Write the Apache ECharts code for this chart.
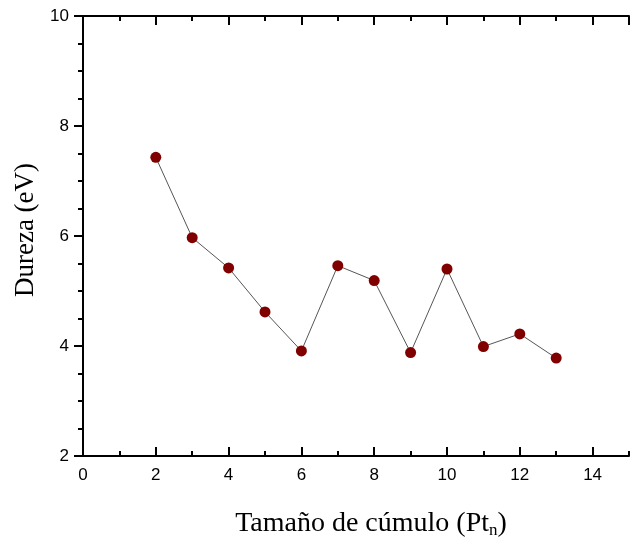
<!DOCTYPE html>
<html>
<head>
<meta charset="utf-8">
<script src="https://cdn.jsdelivr.net/npm/echarts@6/dist/echarts.min.js"></script>
<style>html,body{margin:0;padding:0;background:#fff;}#c{width:642px;height:544px;}</style>
</head>
<body>
<div id="c"></div>
<script>
const clusterSize = [2, 3, 4, 5, 6, 7, 8, 9, 10, 11, 12, 13];
const dureza = [7.43, 5.97, 5.42, 4.62, 3.91, 5.46, 5.19, 3.88, 5.40, 3.99, 4.22, 3.78];
const xTitle = '{a|Tamaño de cúmulo (Pt}{s|n}{a|)}';
const yTitle = 'Dureza (eV)';

const chart = echarts.init(document.getElementById('c'));
const tickFont = { fontFamily: 'Liberation Sans', fontSize: 17, color: '#000' };
const lineStyle = { color: '#000', width: 2 };
function xAx(pos, major, showLabel, extra) {
  return Object.assign({
    type: 'value', min: 0, max: 15, interval: major ? 2 : 1, position: pos,
    axisLine: { show: major, onZero: false, lineStyle: lineStyle },
    axisTick: { show: true, inside: true, length: major ? 9 : 5, lineStyle: { color: '#000', width: 2 } },
    axisLabel: Object.assign({ show: showLabel, margin: 11, showMaxLabel: false }, tickFont),
    splitLine: { show: false }
  }, extra || {});
}
const data = clusterSize.map((x, i) => [x, dureza[i]]);
chart.setOption({
  animation: false,
  grid: { left: 83, right: 13, top: 16, bottom: 88, containLabel: false, outerBoundsMode: 'none' },
  xAxis: [
    xAx('bottom', true, true, {
      name: xTitle, nameLocation: 'middle', nameGap: 54,
      nameTextStyle: {
        padding: [0, 0, 0, 30],
        rich: {
          a: { fontFamily: 'Liberation Serif', fontSize: 28, color: '#000' },
          s: { fontFamily: 'Liberation Serif', fontSize: 17, color: '#000', verticalAlign: 'bottom', padding: [0, 0, -1, 0] }
        }
      }
    }),
    xAx('bottom', false, false),
    xAx('top', true, false),
    xAx('top', false, false)
  ],
  yAxis: [
    {
      type: 'value', min: 2, max: 10, interval: 2, position: 'left',
      name: yTitle, nameLocation: 'middle', nameGap: 44,
      nameTextStyle: { fontFamily: 'Liberation Serif', fontSize: 27, color: '#000', padding: [0, 0, 0, 12] },
      axisLine: { show: true, lineStyle: lineStyle },
      axisTick: { show: true, inside: false, length: 8, lineStyle: { color: '#000', width: 2 } },
      minorTick: { show: true, splitNumber: 4, length: 5, lineStyle: { color: '#000', width: 2 } },
      axisLabel: Object.assign({ margin: 14 }, tickFont),
      splitLine: { show: false }
    },
    {
      type: 'value', min: 2, max: 10, interval: 2, position: 'right',
      axisLine: { show: true, lineStyle: lineStyle },
      axisTick: { show: true, inside: true, length: 9, lineStyle: { color: '#000', width: 2 } },
      minorTick: { show: true, splitNumber: 4, length: 5, lineStyle: { color: '#000', width: 2 } },
      axisLabel: { show: false },
      splitLine: { show: false }
    }
  ],
  series: [{
    type: 'line', data: data, xAxisIndex: 0, yAxisIndex: 0,
    symbol: 'circle', symbolSize: 11,
    itemStyle: { color: '#800000' },
    lineStyle: { color: '#555', width: 1 }
  }]
});
</script>
</body>
</html>
